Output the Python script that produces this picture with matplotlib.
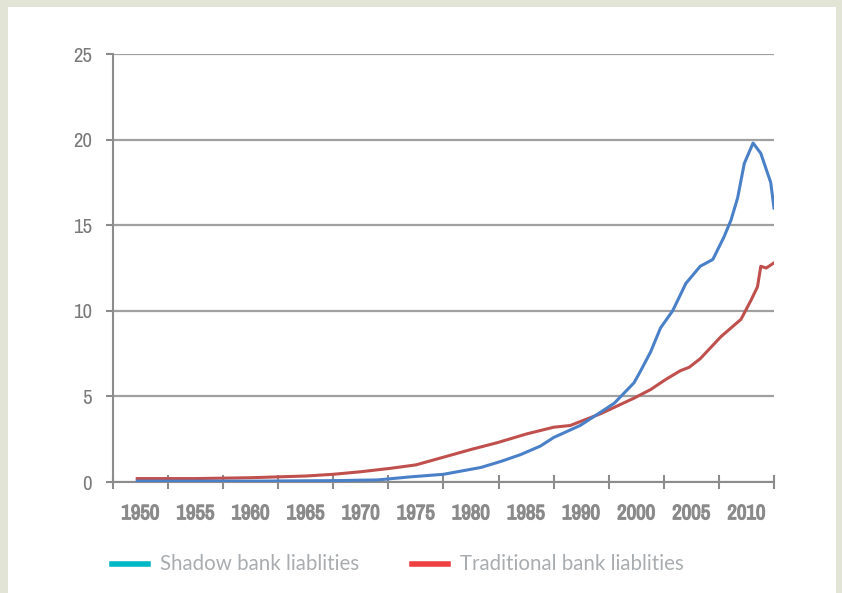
import matplotlib
matplotlib.use('Agg')
import matplotlib.pyplot as plt
import matplotlib.patheffects as pe
from matplotlib import font_manager
from matplotlib.lines import Line2D
from matplotlib.patches import Rectangle

# Eixo x "posicional": cada intervalo entre ticks vale 5 anos, mas o rótulo 1995 não existe no original
rotulos_x = ['1950', '1955', '1960', '1965', '1970', '1975', '1980',
             '1985', '1990', '2000', '2005', '2010']
rotulos_y = [0, 5, 10, 15, 20, 25]

# Passivos do shadow banking (posição no eixo, valor)
shadow_x = [1949.7, 1960.0, 1967.5, 1971.5, 1974.5, 1977.5, 1980.9, 1982.7,
            1984.5, 1986.3, 1987.5, 1989.9, 1991.1, 1993.0, 1994.8, 1995.4,
            1996.3, 1997.2, 1998.3, 1999.5, 2000.8, 2001.95, 2002.95, 2003.6,
            2004.2, 2004.8, 2005.6, 2006.3, 2007.2, 2007.5]
shadow_y = [0.05, 0.05, 0.08, 0.12, 0.3, 0.45, 0.85, 1.2,
            1.6, 2.1, 2.6, 3.3, 3.8, 4.6, 5.8, 6.5,
            7.6, 9.0, 10.0, 11.6, 12.6, 13.0, 14.3, 15.3,
            16.6, 18.6, 19.8, 19.2, 17.5, 16.0]

# Passivos dos bancos tradicionais
trad_x = [1949.7, 1955.0, 1960.0, 1965.0, 1967.5, 1970.0, 1972.7, 1975.0,
          1977.5, 1980.0, 1982.4, 1985.0, 1987.5, 1989.0, 1991.8, 1994.8,
          1996.3, 1997.7, 1999.0, 1999.8, 2000.8, 2002.7, 2004.5, 2005.4,
          2006.0, 2006.3, 2006.8, 2007.5]
trad_y = [0.2, 0.2, 0.25, 0.35, 0.45, 0.6, 0.8, 1.0,
          1.45, 1.9, 2.3, 2.8, 3.2, 3.3, 4.0, 4.9,
          5.4, 6.0, 6.5, 6.7, 7.2, 8.5, 9.5, 10.6,
          11.4, 12.6, 12.5, 12.8]

# fonte condensada para os anos, se existir
nomes = sorted({f.name for f in font_manager.fontManager.ttflist})
cond = [n for n in nomes if 'Narrow' in n or 'Condensed' in n]
fonte_eixo = cond[:1] + ['DejaVu Sans']
fonte_leg = ['Lato', 'DejaVu Sans']

fig = plt.figure(figsize=(8.42, 5.93), dpi=100)
fig.patch.set_facecolor('#e2e5d5')
fig.patches.append(Rectangle((8 / 842, 0), 828 / 842, 586 / 593,
                             transform=fig.transFigure, facecolor='white',
                             edgecolor='none', zorder=-1))

ax = fig.add_axes([113 / 842, 1 - 482 / 593, 661 / 842, 428 / 593])
ax.set_zorder(2)
ax.set_facecolor('none')

ax.plot(trad_x, trad_y, color='#c0504d', linewidth=2.2, zorder=3)
ax.plot(shadow_x, shadow_y, color='#4a80c8', linewidth=2.2, zorder=4)

ax.set_xlim(1947.5, 2007.5)
ax.set_ylim(0, 25)

# ticks maiores nas fronteiras, rótulos no meio dos intervalos
ax.set_xticks([1947.5 + 5 * i for i in range(13)])
ax.set_xticklabels([])
ax.set_xticks([1950 + 5 * i for i in range(12)], minor=True)
ax.set_xticklabels(rotulos_x, minor=True, family=fonte_eixo,
                   fontstretch='condensed', fontsize=15, fontweight='bold',
                   color='#8a8a8a')
for t in ax.get_xticklabels(minor=True):
    t.set_path_effects([pe.withStroke(linewidth=0.9, foreground='#8a8a8a')])
ax.tick_params(axis='x', which='major', direction='inout', length=10,
               width=1.5, color='#8c8c8c')
ax.tick_params(axis='x', which='minor', length=0, pad=16)

ax.set_yticks(rotulos_y)
ax.set_yticklabels([str(v) for v in rotulos_y], fontsize=15, color='#7a7a7a',
                   family=fonte_eixo, fontstretch='condensed')
ax.tick_params(axis='y', direction='out', length=5, width=1.5,
               color='#8c8c8c', pad=10)

ax.grid(axis='y', color='#a0a0a0', linewidth=1.6)
ax.set_axisbelow(True)
for lado in ['top', 'right']:
    ax.spines[lado].set_visible(False)
ax.spines['left'].set_color('#8c8c8c')
ax.spines['left'].set_linewidth(1.5)
ax.spines['bottom'].set_color('#8c8c8c')
ax.spines['bottom'].set_linewidth(1.5)

# legenda manual embaixo
y_leg = 1 - 564 / 593
fig.lines.append(Line2D([112 / 842, 148 / 842], [y_leg, y_leg],
                        transform=fig.transFigure, color='#00b7c6', linewidth=4))
fig.text(160 / 842, y_leg, 'Shadow bank liablities', family=fonte_leg,
         fontsize=14.8, color='#a9adb0', va='center', ha='left')
fig.lines.append(Line2D([412 / 842, 448 / 842], [y_leg, y_leg],
                        transform=fig.transFigure, color='#ee4040', linewidth=4))
fig.text(460 / 842, y_leg, 'Traditional bank liablities', family=fonte_leg,
         fontsize=14.8, color='#a9adb0', va='center', ha='left')

fig.savefig('out.png', dpi=100)
